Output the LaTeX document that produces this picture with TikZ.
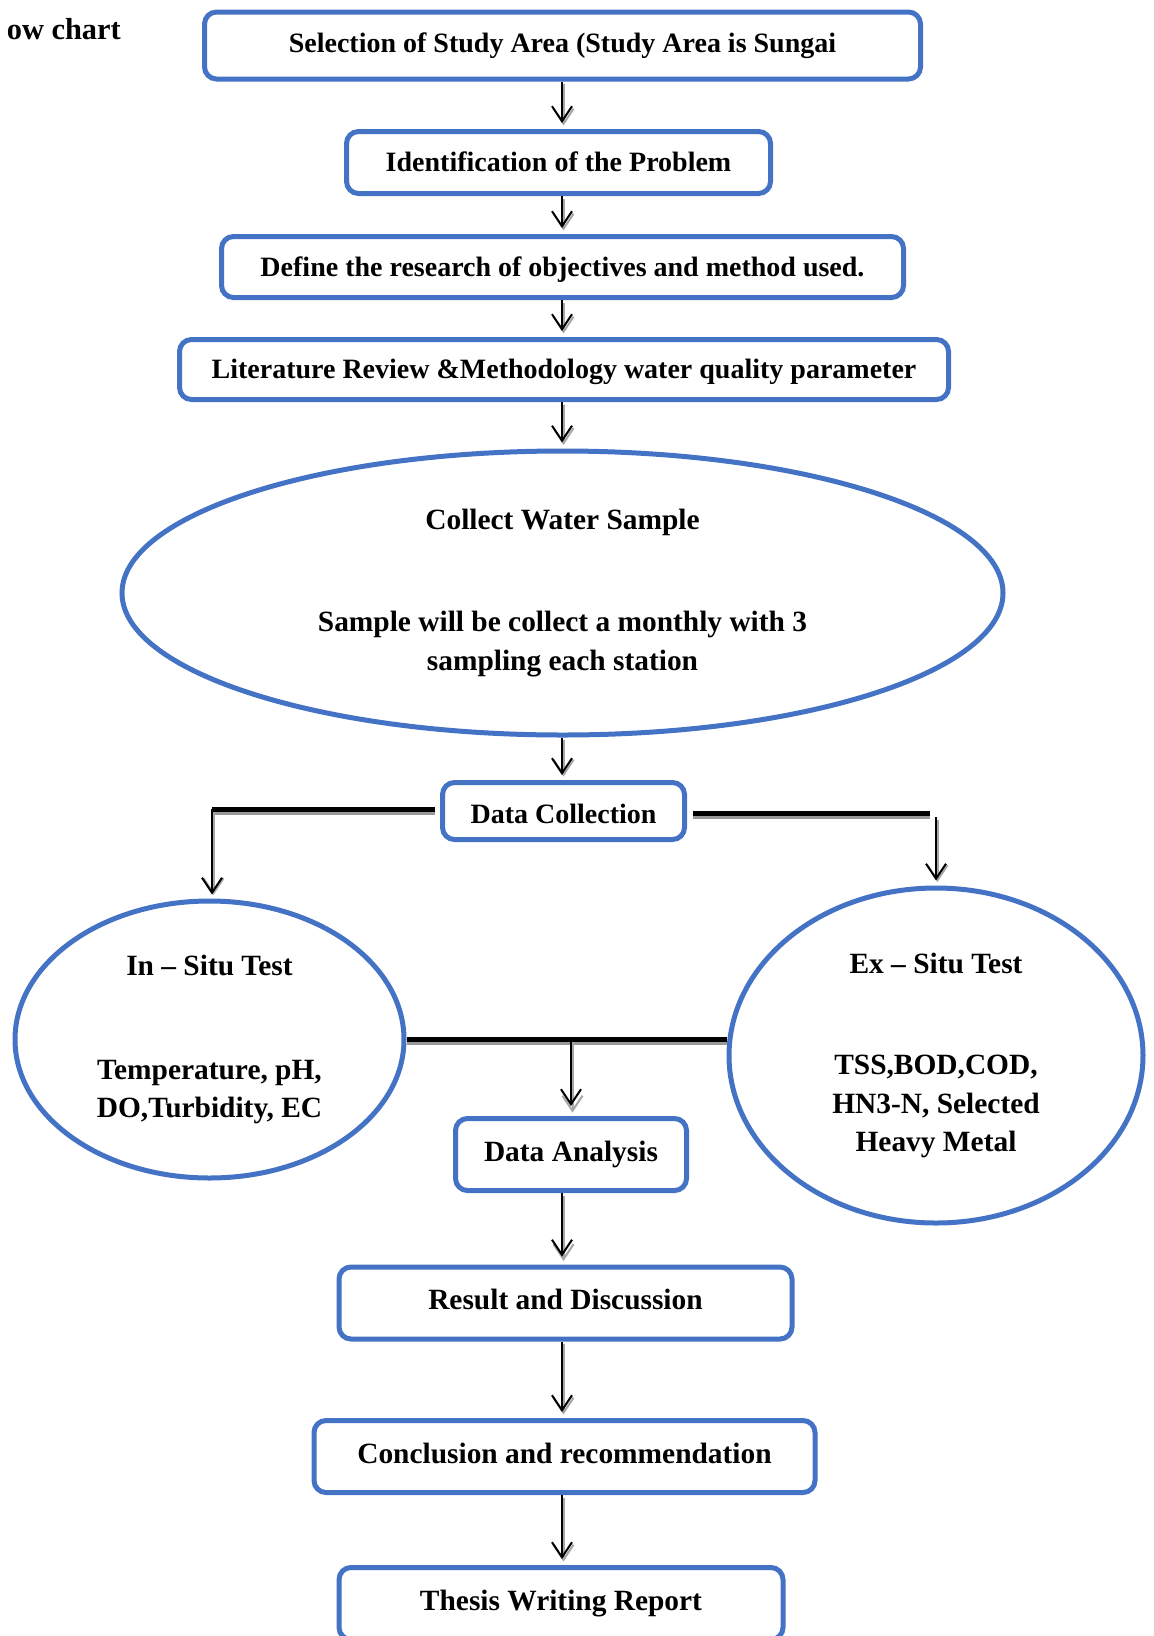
\documentclass[tikz,border=0pt]{standalone}
\usepackage{fontspec}
\setmainfont{Liberation Serif}
\usetikzlibrary{shapes.geometric,arrows.meta}
\definecolor{boxblue}{HTML}{4472C4}
\newcommand{\flowtxt}{\fontsize{28}{38}\selectfont\bfseries}
\newcommand{\flowbig}{\fontsize{29.4}{38.5}\selectfont\bfseries}
\newcommand{\flowtitle}{\fontsize{30.4}{36}\selectfont\bfseries}
\begin{document}
\begin{tikzpicture}[x=1pt,y=-1pt,
  box/.style={draw=boxblue, line width=5pt, rounded corners=12pt, fill=white, inner sep=0pt, font=\flowtxt, align=center, text height=20pt, text depth=7pt},
  oval/.style={ellipse, draw=boxblue, line width=5pt, fill=white, inner sep=0pt, font=\flowbig, align=center},
  arr/.style={line width=2pt, -{Straight Barb[length=15pt,width=20pt,line width=2pt]}, shorten >=6pt,
    preaction={draw=black!35, line width=2pt, -{Straight Barb[length=15pt,width=20pt,line width=2pt]}, shorten >=6pt, transform canvas={shift={(1.5pt,-2.5pt)}}}},
  bar/.style={line width=5pt, preaction={draw=black!40, line width=5pt, transform canvas={shift={(0pt,-3pt)}}}},
]
\useasboundingbox (0,0) rectangle (1154,1636);
\clip (0,0) rectangle (1154,1636);
\coordinate (ax) at (562,0);

\node[font=\flowtitle, anchor=east, inner sep=0pt] (title) at (121,29) {ow chart};

\node[box, minimum width=716pt, minimum height=67pt] (b1) at (562.5,45.5) {Selection of Study Area (Study Area is Sungai};
\node[box, minimum width=424pt, minimum height=62pt, text height=25pt] (b2) at (558.5,162.5) {Identification of the Problem};
\node[box, minimum width=682pt, minimum height=61pt, text height=25pt] (b3) at (562.5,267) {Define the research of objectives and method used.};
\node[box, minimum width=769pt, minimum height=60pt, text height=25pt] (b4) at (564,369.5) {Literature Review \&Methodology water quality parameter};
\node[oval, minimum width=881pt, minimum height=284pt] (e1) at (562.5,593) {Collect Water Sample\\[64pt]Sample will be collect a monthly with 3\\sampling each station};
\node[box, minimum width=242pt, minimum height=57pt, text height=32pt] (b5) at (563.5,811) {Data Collection};
\node[oval, minimum width=389pt, minimum height=277pt] (e2) at (209.5,1039.5) {In -- Situ Test\\[65pt]Temperature, pH,\\DO,Turbidity, EC};
\node[oval, minimum width=414pt, minimum height=335pt] (e3) at (936,1055.5) {Ex -- Situ Test\\[63pt]TSS,BOD,COD,\\HN3-N, Selected\\Heavy Metal};
\node[box, font=\flowbig, minimum width=231pt, minimum height=72pt] (b6) at (571,1154.5) {Data Analysis};
\node[box, font=\flowbig, minimum width=453pt, minimum height=72pt] (b7) at (565.5,1303) {Result and Discussion};
\node[box, font=\flowbig, minimum width=501pt, minimum height=72pt] (b8) at (564.5,1456.5) {Conclusion and recommendation};
\node[box, font=\flowbig, minimum width=444pt, minimum height=72pt] (b9) at (561,1603.5) {Thesis Writing Report};

\draw[arr] (b1.south -| ax) -- (b2.north -| ax);
\draw[arr] (b2.south -| ax) -- (b3.north -| ax);
\draw[arr] (b3.south -| ax) -- (b4.north -| ax);
\draw[arr] (b4.south -| ax) -- (e1.north -| ax);
\draw[arr, shorten >=5pt] (e1.south -| ax) -- (b5.north -| ax);

\coordinate (lc) at (212,809);
\draw[bar] (lc) -- ([xshift=-5pt]b5.west |- lc);
\draw[arr, shorten >=4pt] (lc) -- (lc |- e2.north);
\coordinate (rc) at (930,813);
\draw[bar] ([xshift=6pt]b5.east |- rc) -- (rc);
\coordinate (rt) at (936,817);
\draw[arr, shorten >=5pt] (rt) -- (rt |- e3.north);

\draw[bar] (e2.east) -- (e3.west |- e2.east);
\coordinate (mc) at (b6.north |- e2.east);
\draw[arr, shorten >=10pt] (mc) -- (b6.north);

\draw[arr, shorten >=8pt] (b6.south -| ax) -- (b7.north -| ax);
\draw[arr] (b7.south -| ax) -- (b8.north -| ax);
\draw[arr] (b8.south -| ax) -- (b9.north -| ax);
\end{tikzpicture}
\end{document}
